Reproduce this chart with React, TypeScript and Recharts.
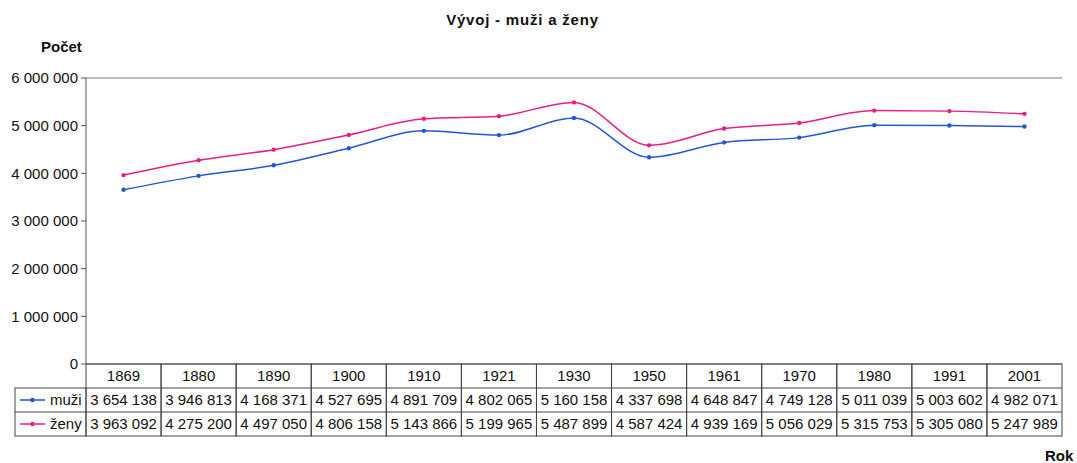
import React from "react";
import { LineChart, Line, XAxis, YAxis, CartesianGrid } from "recharts";

const years = ["1869", "1880", "1890", "1900", "1910", "1921", "1930", "1950", "1961", "1970", "1980", "1991", "2001"];
const muzi = [3654138, 3946813, 4168371, 4527695, 4891709, 4802065, 5160158, 4337698, 4648847, 4749128, 5011039, 5003602, 4982071];
const zeny = [3963092, 4275200, 4497050, 4806158, 5143866, 5199965, 5487899, 4587424, 4939169, 5056029, 5315753, 5305080, 5247989];
const yTicks = [0, 1000000, 2000000, 3000000, 4000000, 5000000, 6000000];

const data = years.map((rok, i) => ({ rok, muzi: muzi[i], zeny: zeny[i] }));

const BLUE = "#2456d4";
const PINK = "#e61f84";
const FONT = "'Liberation Sans', Arial, sans-serif";

const fmt = (v: number) => String(v).replace(/\B(?=(\d{3})+(?!\d))/g, " ");

// table geometry (px, chart coords)
const TOP = 364;
const ROW = 24;
const HALF = 976 / 13 / 2;
const LEG_LEFT = 15;

function TableTick(props: any) {
  const { x, payload, index } = props;
  const i = index as number;
  const left = x - HALF;
  const right = x + HALF;
  return (
    <g fontFamily={FONT} fontSize={15} fill="#111">
      <rect x={left} y={TOP} width={right - left} height={ROW * 3} fill="none" stroke="#444" strokeWidth={1} />
      <line x1={left} x2={right} y1={TOP + ROW} y2={TOP + ROW} stroke="#444" />
      <line x1={left} x2={right} y1={TOP + ROW * 2} y2={TOP + ROW * 2} stroke="#444" />
      <text x={x} y={TOP + 17} textAnchor="middle">{payload.value}</text>
      <text x={x} y={TOP + ROW + 17} textAnchor="middle">{fmt(muzi[i])}</text>
      <text x={x} y={TOP + ROW * 2 + 17} textAnchor="middle">{fmt(zeny[i])}</text>
      {i === 0 && (
        <g>
          <rect x={LEG_LEFT} y={TOP + ROW} width={left - LEG_LEFT} height={ROW * 2} fill="none" stroke="#444" />
          <line x1={LEG_LEFT} x2={left} y1={TOP + ROW * 2} y2={TOP + ROW * 2} stroke="#444" />
          <line x1={20} x2={45} y1={TOP + ROW + 12} y2={TOP + ROW + 12} stroke={BLUE} strokeWidth={1.5} />
          <circle cx={32.5} cy={TOP + ROW + 12} r={2.2} fill={BLUE} />
          <text x={50} y={TOP + ROW + 17}>muži</text>
          <line x1={20} x2={45} y1={TOP + ROW * 2 + 12} y2={TOP + ROW * 2 + 12} stroke={PINK} strokeWidth={1.5} />
          <circle cx={32.5} cy={TOP + ROW * 2 + 12} r={2.2} fill={PINK} />
          <text x={50} y={TOP + ROW * 2 + 17}>ženy</text>
        </g>
      )}
    </g>
  );
}

export default function App() {
  return (
    <div style={{ position: "absolute", left: 0, top: 0, width: 1077, height: 463, background: "#fff", fontFamily: FONT }}>
      <div style={{ position: "absolute", left: 0, width: 1045, top: 11, textAlign: "center", fontWeight: "bold", fontSize: 15, letterSpacing: 0.8, color: "#111", lineHeight: "17px" }}>
        Vývoj - muži a ženy
      </div>
      <div style={{ position: "absolute", left: 41, top: 38, fontWeight: "bold", fontSize: 15, color: "#111", lineHeight: "17px" }}>Počet</div>
      <div style={{ position: "absolute", left: 1045, top: 448, fontWeight: "bold", fontSize: 15, color: "#111", lineHeight: "15px" }}>Rok</div>
      <LineChart width={1077} height={463} data={data} margin={{ top: 78, right: 15, bottom: 27, left: 6 }}>
        <CartesianGrid vertical={false} stroke="#7a7a7a" strokeWidth={1} />
        <XAxis
          dataKey="rok"
          height={72}
          padding={{ left: HALF, right: HALF }}
          axisLine={false}
          tickLine={false}
          interval={0}
          tick={<TableTick />}
        />
        <YAxis
          yAxisId="l"
          width={80}
          domain={[0, 6000000]}
          ticks={yTicks}
          tickFormatter={fmt}
          tick={{ fontSize: 15, fill: "#111", fontFamily: FONT }}
          tickSize={5}
          tickMargin={3}
          stroke="#555"
        />
        <YAxis yAxisId="r" orientation="right" width={0} domain={[0, 6000000]} tick={false} stroke="#555" />
        <Line
          yAxisId="l"
          type="monotone"
          dataKey="muzi"
          stroke={BLUE}
          strokeWidth={1.5}
          dot={{ r: 2.2, fill: BLUE, stroke: BLUE, strokeWidth: 0 }}
          isAnimationActive={false}
        />
        <Line
          yAxisId="l"
          type="monotone"
          dataKey="zeny"
          stroke={PINK}
          strokeWidth={1.5}
          dot={{ r: 2.2, fill: PINK, stroke: PINK, strokeWidth: 0 }}
          isAnimationActive={false}
        />
      </LineChart>
    </div>
  );
}
